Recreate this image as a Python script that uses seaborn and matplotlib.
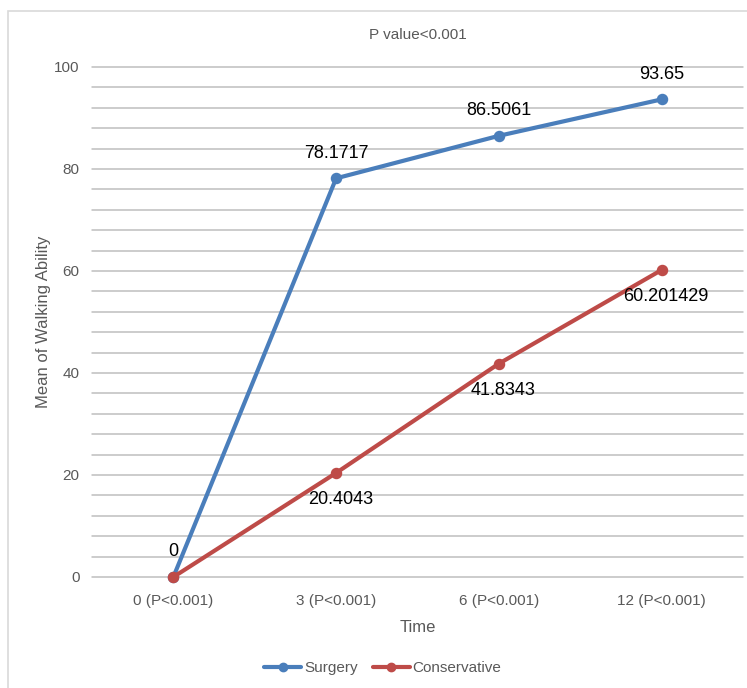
import pandas as pd
import numpy as np
import matplotlib
matplotlib.use('Agg')
import matplotlib.pyplot as plt
import seaborn as sns
from matplotlib.patches import Rectangle
from matplotlib.lines import Line2D

# data
time_labels = ['0 (P<0.001)', '3 (P<0.001)', '6 (P<0.001)', '12 (P<0.001)']
surgery = [0, 78.1717, 86.5061, 93.65]
conservative = [0, 20.4043, 41.8343, 60.201429]
surgery_text = ['0', '78.1717', '86.5061', '93.65']
conservative_text = ['', '20.4043', '41.8343', '60.201429']

BLUE = '#4a7ebb'
RED = '#be4b48'

df = pd.DataFrame({
    'Time': time_labels * 2,
    'value': surgery + conservative,
    'group': ['Surgery'] * 4 + ['Conservative'] * 4,
})

sns.set_theme(style='white')
plt.rcParams['font.family'] = ['Liberation Sans Narrow', 'Liberation Sans', 'DejaVu Sans']

fig = plt.figure(figsize=(7.47, 6.88), dpi=100)
ax = fig.add_axes([92 / 747, 1 - 577 / 688, 651 / 747, 510 / 688])

# light grey frame round the chart like the excel export
fig.patches.append(Rectangle((8 / 747, -0.1), 1.2, 1 - 11 / 688 + 0.1,
                             transform=fig.transFigure, fill=False,
                             edgecolor='#d9d9d9', linewidth=1.2))

# gridlines every 4
for yv in np.arange(0, 101, 4):
    ax.axhline(yv, color='#bfbfbf', linewidth=1.1, zorder=0)

sns.pointplot(data=df, x='Time', y='value', hue='group', order=time_labels,
              hue_order=['Surgery', 'Conservative'], palette=[BLUE, RED],
              markers='o', linestyles='-', errorbar=None, ax=ax,
              markersize=6, linewidth=3, legend=False)
for coll in ax.collections:
    coll.set_clip_on(False)
for ln in ax.lines:
    ln.set_clip_on(False)

ax.set_ylim(0, 100)
ax.set_xlim(-0.5, 3.5)
ax.set_yticks([0, 20, 40, 60, 80, 100])
ax.tick_params(axis='both', length=0, labelsize=11, labelcolor='#595959')
ax.tick_params(axis='y', pad=9)
ax.tick_params(axis='x', pad=12)
for s in ax.spines.values():
    s.set_visible(False)

ax.set_xlabel('Time', fontsize=12, color='#595959', labelpad=9)
ax.set_ylabel('Mean of Walking Ability', fontsize=12, color='#595959', labelpad=2)
ax.set_title('P value<0.001', fontsize=11, color='#595959', pad=20)

# data labels
for i, (v, t) in enumerate(zip(surgery, surgery_text)):
    ax.annotate(t, (i, v), xytext=(0, 18), textcoords='offset points',
                ha='center', va='center', fontsize=13, color='black')
for i, (v, t) in enumerate(zip(conservative, conservative_text)):
    if t:
        ax.annotate(t, (i, v), xytext=(3, -19), textcoords='offset points',
                    ha='center', va='center', fontsize=13, color='black')

handles = [Line2D([], [], color=BLUE, marker='o', linewidth=3, markersize=6),
           Line2D([], [], color=RED, marker='o', linewidth=3, markersize=6)]
fig.legend(handles, ['Surgery', 'Conservative'], loc='center', ncol=2,
           bbox_to_anchor=(383 / 747, 1 - 668 / 688), frameon=False,
           fontsize=11, labelcolor='#595959', handlelength=2.4,
           columnspacing=1.0, handletextpad=0.2)

fig.savefig('out.png', dpi=100)
